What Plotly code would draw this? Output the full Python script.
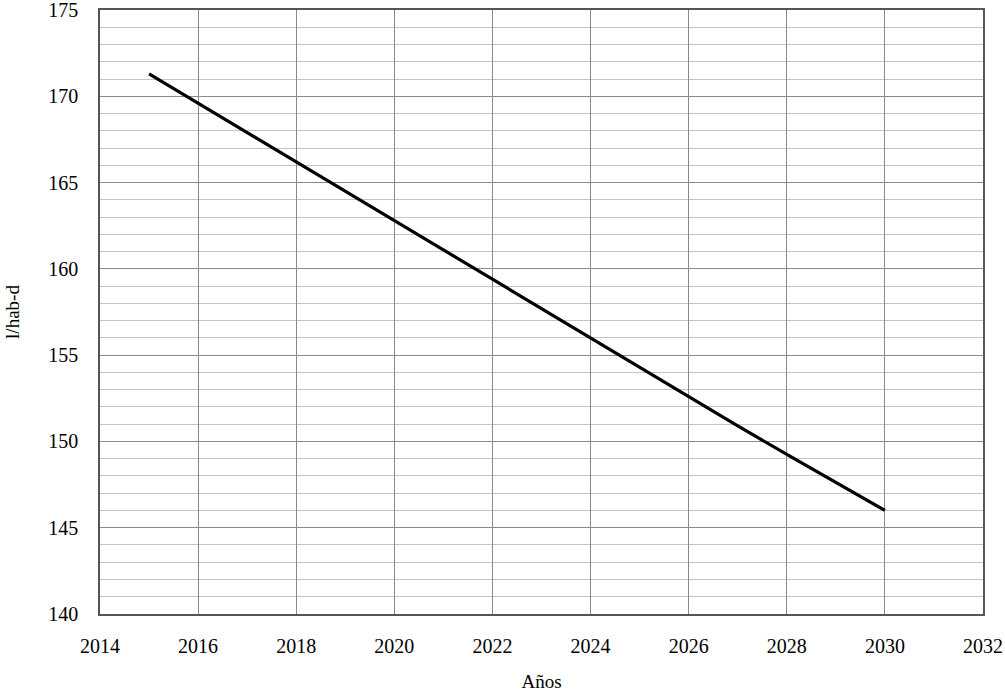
import plotly.graph_objects as go

anios = [2015, 2016, 2017, 2018, 2019, 2020, 2021, 2022, 2023, 2024, 2025, 2026, 2027, 2028, 2029, 2030]
dotacion = [171.3, 169.6, 167.9, 166.2, 164.5, 162.8, 161.1, 159.4, 157.7, 156.0, 154.3, 152.6, 150.9, 149.25, 147.6, 146.0]

fuente = "Liberation Serif"

fig = go.Figure()
fig.add_trace(go.Scatter(x=anios, y=dotacion, mode="lines",
                         line=dict(color="black", width=3.2), showlegend=False))

fig.update_layout(
    width=1005, height=692,
    margin=dict(l=100, r=22, t=10, b=78),
    paper_bgcolor="white", plot_bgcolor="white",
    font=dict(family=fuente, size=20, color="black"),
)
fig.update_xaxes(
    range=[2014, 2032], dtick=2, tick0=2014, automargin=False,
    showgrid=True, gridcolor="#8a8a8a", gridwidth=1.3,
    showline=True, linecolor="#555555", linewidth=1.5, mirror=True,
    zeroline=False, ticks="", ticklabelstandoff=13, ticklabeloverflow="allow",
    title=dict(text="Años", standoff=24, font=dict(size=19)),
)
fig.update_yaxes(
    range=[140, 175], dtick=5, tick0=140, automargin=False,
    showgrid=True, gridcolor="#8a8a8a", gridwidth=1.3,
    minor=dict(dtick=1, showgrid=True, gridcolor="#c4c4c4", gridwidth=1.2),
    showline=True, linecolor="#555555", linewidth=1.5, mirror=True,
    zeroline=False, ticks="", ticklabelstandoff=16, ticklabeloverflow="allow",
    title=dict(text="l/hab-d", standoff=24, font=dict(size=19)),
)

# quitar el margen por defecto del <body> para que el grafico quede en 0,0
fig.write_html("out.html", config={"displayModeBar": False},
               post_script="document.body.style.margin = '0';")
